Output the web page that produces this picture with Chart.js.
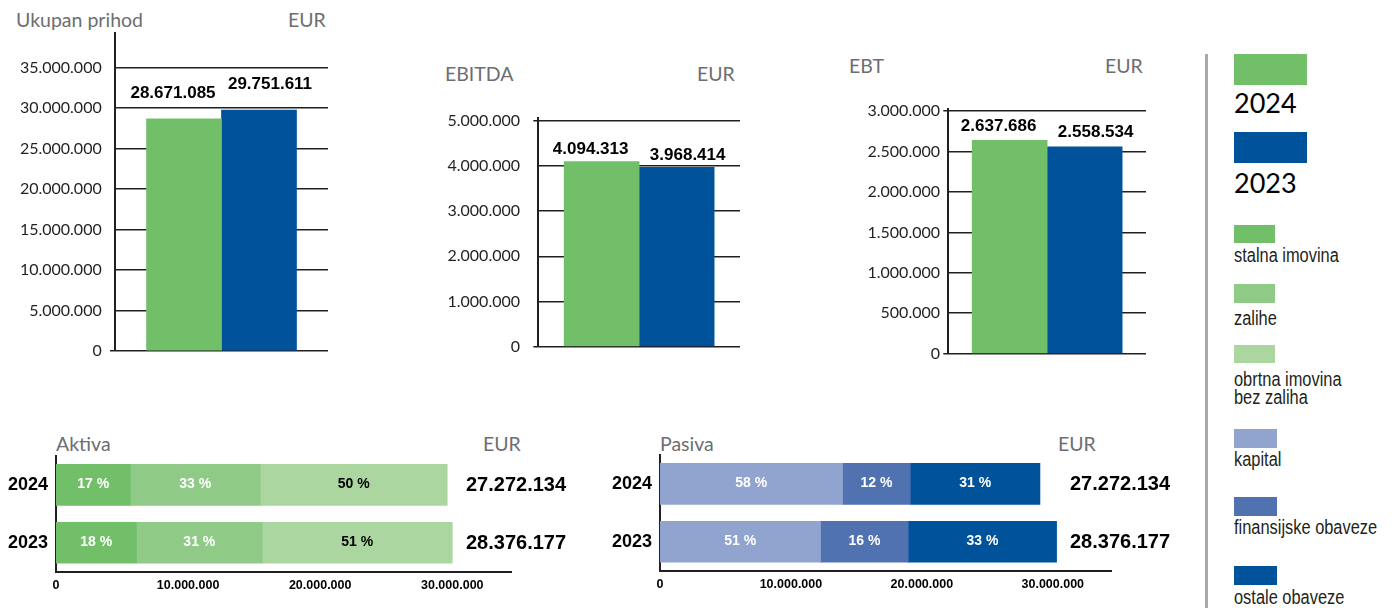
<!DOCTYPE html>
<html>
<head>
<meta charset="utf-8">
<script src="https://cdn.jsdelivr.net/npm/chart.js@4.4.1/dist/chart.umd.min.js"></script>
<style>
  html, body { margin: 0; padding: 0; background: #fff; }
  #page { position: relative; width: 1398px; height: 608px; overflow: hidden; }
  canvas { position: absolute; }
  .t { position: absolute; font-family: Lato, sans-serif; font-size: 19.5px; line-height: 20px; color: #6d6e71; white-space: nowrap; }
  .sw { position: absolute; left: 1234px; }
  .yr { position: absolute; left: 1234px; font-family: Lato, sans-serif; font-size: 27px; line-height: 27px; color: #000; }
  .lg { position: absolute; left: 1234px; font-family: 'Liberation Sans Narrow', 'Liberation Sans', sans-serif; font-size: 20px; line-height: 18px; color: #231f20; white-space: nowrap; transform: scaleX(0.82); transform-origin: 0 0; }
</style>
</head>
<body>
<div id="page">
  <div class="t" style="left:16px;top:10px">Ukupan prihod</div>
  <div class="t" style="left:288px;top:10px">EUR</div>
  <div class="t" style="left:445px;top:64px">EBITDA</div>
  <div class="t" style="left:697px;top:64px">EUR</div>
  <div class="t" style="left:849px;top:56px">EBT</div>
  <div class="t" style="left:1105px;top:56px">EUR</div>
  <div class="t" style="left:56px;top:434px">Aktiva</div>
  <div class="t" style="left:483px;top:434px">EUR</div>
  <div class="t" style="left:660px;top:434px">Pasiva</div>
  <div class="t" style="left:1058px;top:434px">EUR</div>

  <canvas id="prihodChart" width="335" height="343" style="left:0;top:20px"></canvas>
  <canvas id="ebitdaChart" width="330" height="254" style="left:420px;top:105px"></canvas>
  <canvas id="ebtChart" width="316" height="270" style="left:840px;top:96px"></canvas>
  <canvas id="aktivaChart" width="580" height="163" style="left:0;top:445px"></canvas>
  <canvas id="pasivaChart" width="580" height="163" style="left:600px;top:445px"></canvas>

  <!-- legend -->
  <div style="position:absolute;left:1205px;top:54px;width:2.5px;height:554px;background:#a7a9ac"></div>
  <div class="sw" style="top:54px;width:73px;height:30.5px;background:#72bf6a"></div>
  <div class="yr" style="top:88.8px">2024</div>
  <div class="sw" style="top:132.3px;width:73px;height:30.4px;background:#00529b"></div>
  <div class="yr" style="top:168.8px">2023</div>
  <div class="sw" style="top:225px;width:41px;height:18.3px;background:#72bf6a"></div>
  <div class="lg" style="top:246.4px">stalna imovina</div>
  <div class="sw" style="top:284px;width:41px;height:18.7px;background:#8fca87"></div>
  <div class="lg" style="top:309.1px">zalihe</div>
  <div class="sw" style="top:345px;width:41px;height:18.3px;background:#acd6a0"></div>
  <div class="lg" style="top:370.1px">obrtna imovina<br>bez zaliha</div>
  <div class="sw" style="top:429.3px;width:43px;height:18.4px;background:#91a3cf"></div>
  <div class="lg" style="top:450.1px">kapital</div>
  <div class="sw" style="top:497.3px;width:43px;height:18.4px;background:#5072b0"></div>
  <div class="lg" style="top:518.1px">finansijske obaveze</div>
  <div class="sw" style="top:566px;width:43px;height:19px;background:#00529b"></div>
  <div class="lg" style="top:588.1px">ostale obaveze</div>
</div>

<script>
// years, top to bottom / left to right
const years = ['2024', '2023'];

// EUR, [2024, 2023]
const prihod = [28671085, 29751611];
const ebitda = [4094313, 3968414];
const ebt = [2637686, 2558534];

const prihodTicks = [0, 5000000, 10000000, 15000000, 20000000, 25000000, 30000000, 35000000];
const ebitdaTicks = [0, 1000000, 2000000, 3000000, 4000000, 5000000];
const ebtTicks = [0, 500000, 1000000, 1500000, 2000000, 2500000, 3000000];

// Aktiva segments as drawn on the axis (EUR), rows [2024, 2023]
const stalnaImovina = [5630000, 6090000];
const zalihe = [9830000, 9520000];
const obrtnaImovina = [14160000, 14390000];
const stalnaPct = [17, 18];
const zalihePct = [33, 31];
const obrtnaPct = [50, 51];

// Pasiva segments as drawn on the axis (EUR), rows [2024, 2023]
const kapital = [13940000, 12260000];
const finObaveze = [5180000, 6700000];
const ostaleObaveze = [9900000, 11330000];
const kapitalPct = [58, 51];
const finPct = [12, 16];
const ostalePct = [31, 33];

const ukupnoAktiva = [27272134, 28376177];
const ukupnoPasiva = [27272134, 28376177];
const bilansTicks = [0, 10000000, 20000000, 30000000];

const GREEN = '#72bf6a';
const BLUE = '#00529b';
const INK = '#231f20';

const fmt = v => String(Math.round(v)).replace(/\B(?=(\d{3})+(?!\d))/g, '.');

// numbers above the year bars
const valueLabels = {
  id: 'valueLabels',
  afterDatasetsDraw(chart, args, o) {
    const ctx = chart.ctx;
    ctx.save();
    ctx.font = 'bold 17px "Liberation Sans", Arial, sans-serif';
    ctx.fillStyle = '#000';
    ctx.textAlign = 'center';
    ctx.textBaseline = 'middle';
    chart.data.datasets.forEach((ds, i) => {
      const bar = chart.getDatasetMeta(i).data[0];
      ctx.fillText(fmt(ds.data[0]), bar.x + (i === 0 ? -o.spread : o.spread), bar.y - o.lift);
    });
    ctx.restore();
  }
};

// % inside segments + row totals on the right
const segmentLabels = {
  id: 'segmentLabels',
  afterDatasetsDraw(chart, args, o) {
    const ctx = chart.ctx;
    ctx.save();
    ctx.textBaseline = 'middle';
    ctx.textAlign = 'center';
    ctx.font = 'bold 14px "Liberation Sans", Arial, sans-serif';
    chart.data.datasets.forEach((ds, i) => {
      ctx.fillStyle = ds.textColor;
      chart.getDatasetMeta(i).data.forEach((bar, j) => {
        ctx.fillText(ds.pct[j] + ' %', (bar.x + bar.base) / 2, bar.y - 1);
      });
    });
    ctx.textAlign = 'left';
    ctx.fillStyle = '#000';
    ctx.font = 'bold 20px "Liberation Sans", Arial, sans-serif';
    chart.getDatasetMeta(0).data.forEach((bar, j) => {
      ctx.fillText(fmt(o.totals[j]), chart.chartArea.left + o.dx, bar.y + 1);
    });
    ctx.restore();
  }
};

function yearBars(id, values, ticks, opts) {
  new Chart(document.getElementById(id), {
    type: 'bar',
    data: {
      labels: [''],
      datasets: years.map((y, i) => ({
        label: y,
        data: [values[i]],
        backgroundColor: i === 0 ? GREEN : BLUE,
        barThickness: 75,
        borderWidth: 0,
      })),
    },
    options: {
      responsive: false,
      animation: false,
      events: [],
      layout: { padding: opts.pad },
      plugins: {
        legend: { display: false },
        tooltip: { enabled: false },
        valueLabels: { lift: opts.lift, spread: 11 },
      },
      scales: {
        x: { display: false },
        y: {
          min: 0,
          max: opts.max,
          afterBuildTicks: s => { s.ticks = ticks.map(v => ({ value: v })); },
          afterFit: s => { s.width = opts.axisW; s.paddingTop = 0; s.paddingBottom = 0; },
          grid: {
            color: INK,
            lineWidth: 1.5,
            tickLength: 5,
            tickColor: c => (c.tick && opts.marks.includes(c.tick.value)) ? INK : 'rgba(0,0,0,0)',
          },
          border: { color: INK, width: 2 },
          ticks: {
            color: INK,
            padding: opts.tickPad,
            font: { family: 'Lato', size: 16 },
            callback: v => fmt(v),
          },
        },
      },
    },
    plugins: [valueLabels],
  });
}

function bilans(id, sets, totals, opts) {
  new Chart(document.getElementById(id), {
    type: 'bar',
    data: {
      labels: years,
      datasets: sets.map(s => ({
        label: s.name,
        data: s.data,
        pct: s.pct,
        textColor: s.text,
        backgroundColor: s.color,
        barThickness: 41,
        borderWidth: 0,
      })),
    },
    options: {
      indexAxis: 'y',
      responsive: false,
      animation: false,
      events: [],
      layout: { padding: opts.pad },
      plugins: {
        legend: { display: false },
        tooltip: { enabled: false },
        segmentLabels: { totals, dx: 410 },
      },
      scales: {
        x: {
          stacked: true,
          min: 0,
          max: 34500000,
          afterBuildTicks: s => { s.ticks = bilansTicks.map(v => ({ value: v })); },
          afterFit: s => { s.height = 30; s.paddingLeft = 0; s.paddingRight = 0; },
          grid: { display: false },
          border: { color: INK, width: 2 },
          ticks: {
            color: '#000',
            padding: -1.5,
            maxRotation: 0,
            autoSkip: false,
            font: { family: 'Liberation Sans', size: 12.5, weight: 'bold' },
            callback: v => fmt(v),
          },
        },
        y: {
          stacked: true,
          afterFit: s => { s.width = opts.axisW; s.paddingTop = 0; s.paddingBottom = 0; },
          grid: { display: false },
          border: { color: INK, width: 2 },
          ticks: {
            color: '#000',
            padding: 0,
            font: { family: 'Liberation Sans', size: 18, weight: 'bold' },
          },
        },
      },
    },
    plugins: [segmentLabels],
  });
}

yearBars('prihodChart', prihod, prihodTicks, {
  pad: { top: 13, right: 7, bottom: 12, left: 0 },
  axisW: 115, max: 39290000, tickPad: 8.3, marks: [0], lift: 26,
});
yearBars('ebitdaChart', ebitda, ebitdaTicks, {
  pad: { top: 13.3, right: 10, bottom: 12.3, left: 0 },
  axisW: 118.3, max: 5053000, tickPad: 13.3, marks: [0, 5000000], lift: 12,
});
yearBars('ebtChart', ebt, ebtTicks, {
  pad: { top: 13.3, right: 10, bottom: 12.3, left: 0 },
  axisW: 108.3, max: 3021000, tickPad: 3.3, marks: [0, 3000000], lift: 14,
});

bilans('aktivaChart', [
  { name: 'stalna imovina', data: stalnaImovina, pct: stalnaPct, color: GREEN, text: '#fff' },
  { name: 'zalihe', data: zalihe, pct: zalihePct, color: '#8fca87', text: '#fff' },
  { name: 'obrtna imovina bez zaliha', data: obrtnaImovina, pct: obrtnaPct, color: '#acd6a0', text: '#000' },
], ukupnoAktiva, { pad: { top: 11, right: 68.3, bottom: 6.3, left: 0 }, axisW: 56 });

bilans('pasivaChart', [
  { name: 'kapital', data: kapital, pct: kapitalPct, color: '#91a3cf', text: '#fff' },
  { name: 'finansijske obaveze', data: finObaveze, pct: finPct, color: '#5072b0', text: '#fff' },
  { name: 'ostale obaveze', data: ostaleObaveze, pct: ostalePct, color: BLUE, text: '#fff' },
], ukupnoPasiva, { pad: { top: 10, right: 68.3, bottom: 7.3, left: 0 }, axisW: 60 });
</script>
</body>
</html>
